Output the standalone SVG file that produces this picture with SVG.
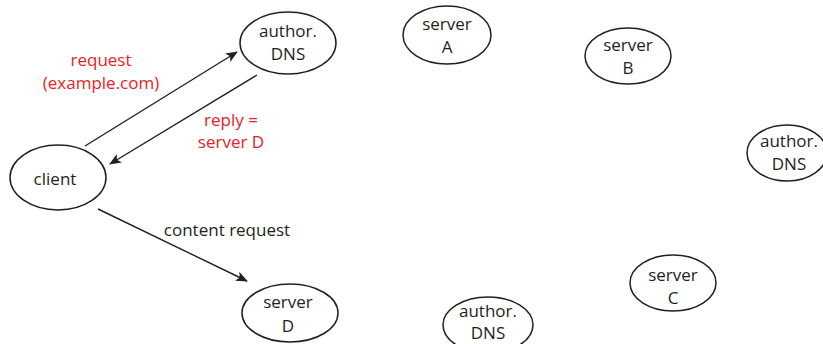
<svg xmlns="http://www.w3.org/2000/svg" width="823" height="344" viewBox="0 0 823 344">
<style>
.n{fill:#fff;stroke:#231f20;stroke-width:1.5}
.t{font-family:"Open Sans","Liberation Sans",sans-serif;font-size:17px;fill:#231f20;text-anchor:middle}
.r{fill:#ed2024}
.e{stroke:#231f20;stroke-width:1.4;fill:none;marker-end:url(#ah)}
</style>
<defs>
<marker id="ah" viewBox="0 0 12 10" refX="11" refY="5" markerWidth="12" markerHeight="10" markerUnits="userSpaceOnUse" orient="auto">
<path d="M0,0 L12,5 L0,10 L3,5 Z" fill="#231f20"/>
</marker>
</defs>
<rect width="823" height="344" fill="#fff"/>
<g id="auth1"><ellipse class="n" cx="288" cy="43" rx="48" ry="31"/><text class="t" x="288" y="37">author.</text><text class="t" x="288" y="60">DNS</text></g>
<g id="serverA"><ellipse class="n" cx="447" cy="35" rx="44" ry="29"/><text class="t" x="447" y="30">server</text><text class="t" x="447" y="53">A</text></g>
<g id="serverB"><ellipse class="n" cx="628" cy="56" rx="43" ry="28"/><text class="t" x="628" y="51">server</text><text class="t" x="628" y="74">B</text></g>
<g id="auth2"><ellipse class="n" cx="787" cy="153" rx="40" ry="28"/><text class="t" x="789" y="147">author.</text><text class="t" x="789" y="170">DNS</text></g>
<g id="client"><ellipse class="n" cx="58" cy="177.5" rx="48" ry="32.5"/><text class="t" x="55" y="185">client</text></g>
<g id="serverD"><ellipse class="n" cx="290" cy="313" rx="48" ry="29"/><text class="t" x="288" y="308">server</text><text class="t" x="288" y="332">D</text></g>
<g id="auth3"><ellipse class="n" cx="488" cy="325" rx="45" ry="28"/><text class="t" x="488" y="317">author.</text><text class="t" x="488" y="339">DNS</text></g>
<g id="serverC"><ellipse class="n" cx="673" cy="283" rx="43" ry="28"/><text class="t" x="673" y="281">server</text><text class="t" x="673" y="304">C</text></g>
<g id="edges">
<line class="e" x1="85" y1="146" x2="237" y2="52"/>
<line class="e" x1="257" y1="75" x2="110" y2="164"/>
<line class="e" x1="98" y1="209" x2="247" y2="281"/>
<text class="t r" x="101" y="66">request</text>
<text class="t r" x="101" y="89">(example.com)</text>
<text class="t r" x="231" y="126">reply =</text>
<text class="t r" x="231" y="148">server D</text>
<text class="t" x="227" y="236">content request</text>
</g>
</svg>
